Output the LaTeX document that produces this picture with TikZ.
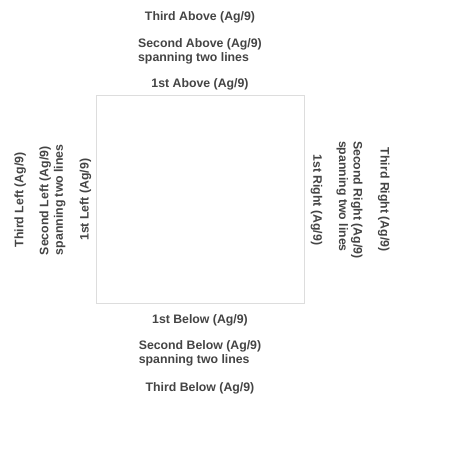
\documentclass[tikz,border=0pt]{standalone}
\usepackage{fontspec}
\setmainfont{Liberation Sans}
\usepackage{xcolor}
\usetikzlibrary{positioning}
\definecolor{labelgray}{HTML}{444444}
\definecolor{framegray}{HTML}{DDDDDD}

\begin{document}
\begin{tikzpicture}[
  x=1pt, y=1pt,
  font=\fontsize{12.3}{14.4}\selectfont\bfseries,
  frame/.style={draw=framegray, line width=1pt, minimum size=208pt, inner sep=0pt},
  lbl/.style={text=labelgray, inner sep=0pt, align=left},
  leftlbl/.style={lbl, rotate=90, anchor=south},
  rightlbl/.style={lbl, rotate=-90, anchor=south}
]
  \useasboundingbox (0,0) rectangle (450,-450);
  \node [frame] (sq) at (200,-199.8) {};

  % above
  \node [lbl] (above1) [above=5pt of sq] {1st Above (Ag/9)};
  \node [lbl] (above2) [above=14pt of above1] {Second Above (Ag/9)\\spanning two lines};
  \node [lbl] (above3) [above=15pt of above2] {Third Above (Ag/9)};

  % below
  \node [lbl] (below1) [below=10pt of sq] {1st Below (Ag/9)};
  \node [lbl] (below2) [below=14pt of below1] {Second Below (Ag/9)\\spanning two lines};
  \node [lbl] (below3) [below=16pt of below2] {Third Below (Ag/9)};

  % left
  \node [leftlbl] (left1) [left=4pt of sq.west, anchor=south] {1st Left (Ag/9)};
  \node [leftlbl] (left2) [left=14pt of left1.north, anchor=south] {Second Left (Ag/9)\\spanning two lines};
  \node [leftlbl] (left3) [left=13pt of left2.north, anchor=south] {Third Left (Ag/9)};

  % right
  \node [rightlbl] (right1) [right=6pt of sq.east, anchor=south] {1st Right (Ag/9)};
  \node [rightlbl] (right2) [right=14pt of right1.north, anchor=south] {Second Right (Ag/9)\\spanning two lines};
  \node [rightlbl] (right3) [right=15pt of right2.north, anchor=south] {Third Right (Ag/9)};
\end{tikzpicture}
\end{document}
